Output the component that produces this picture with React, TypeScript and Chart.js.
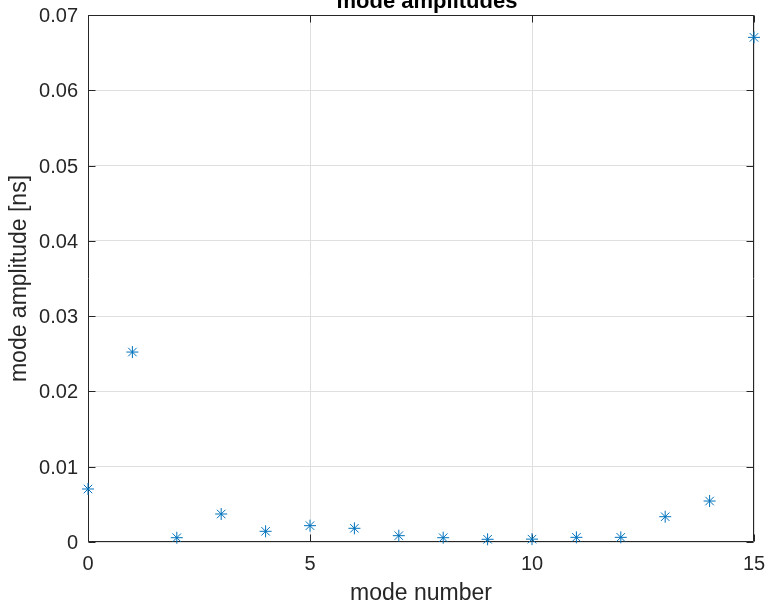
import React, { useEffect, useRef } from "react";
import { Chart, registerables } from "chart.js";

Chart.register(...registerables);

// Mode index and amplitude (ns) of each mode
const modeNumbers = [0, 1, 2, 3, 4, 5, 6, 7, 8, 9, 10, 11, 12, 13, 14, 15];
const modeAmplitudes = [
  0.00704, 0.02523, 0.00057, 0.00372, 0.00142, 0.00217, 0.00182, 0.00084,
  0.00057, 0.00036, 0.00038, 0.00062, 0.00062, 0.00336, 0.00544, 0.06703,
];

const xTicks = [0, 5, 10, 15];
const xTickLabels = ["0", "5", "10", "15"];
const yTicks = [0, 0.01, 0.02, 0.03, 0.04, 0.05, 0.06, 0.07];
const yTickLabels = ["0", "0.01", "0.02", "0.03", "0.04", "0.05", "0.06", "0.07"];

const titleText = "mode amplitudes";
const xLabel = "mode number";
const yLabel = "mode amplitude [ns]";

const AXIS_COLOR = "#262626";
const GRID_COLOR = "#dfdfdf";
const MARKER_COLOR = "#0072BD";
const FONT = "'Liberation Sans', Arial, Helvetica, sans-serif";

// Axes box with inward tick marks, drawn beneath the markers
const axesBox = {
  id: "axesBox",
  beforeDatasetsDraw(chart: any) {
    const { ctx, chartArea } = chart;
    const xs = chart.scales.x;
    const ys = chart.scales.y;
    const l = Math.round(chartArea.left) + 0.5;
    const r = Math.round(chartArea.right) - 0.5;
    const t = Math.round(chartArea.top) + 0.5;
    const b = Math.round(chartArea.bottom) - 0.5;
    const tl = 7;
    ctx.save();
    ctx.strokeStyle = AXIS_COLOR;
    ctx.lineWidth = 1;
    ctx.beginPath();
    ctx.rect(l, t, r - l, b - t);
    for (const v of xTicks) {
      const px = Math.round(xs.getPixelForValue(v)) + 0.5;
      ctx.moveTo(px, b);
      ctx.lineTo(px, b - tl);
      ctx.moveTo(px, t);
      ctx.lineTo(px, t + tl);
    }
    for (const v of yTicks) {
      const py = Math.round(ys.getPixelForValue(v)) + 0.5;
      ctx.moveTo(l, py);
      ctx.lineTo(l + tl, py);
      ctx.moveTo(r, py);
      ctx.lineTo(r - tl, py);
    }
    ctx.stroke();
    ctx.restore();
  },
  afterDraw(chart: any) {
    const { ctx } = chart;
    ctx.save();
    ctx.fillStyle = "#000000";
    ctx.font = `bold 22px ${FONT}`;
    ctx.textAlign = "center";
    ctx.textBaseline = "alphabetic";
    ctx.fillText(titleText, 427, 7.5);
    ctx.restore();
  },
};

// Keep overhanging tick labels from shrinking the plot area
const clearScalePadding = (scale: any) => {
  scale.paddingTop = 0;
  scale.paddingBottom = 0;
  scale.paddingLeft = 0;
  scale.paddingRight = 0;
};

export default function App() {
  const canvasRef = useRef<HTMLCanvasElement | null>(null);

  useEffect(() => {
    if (!canvasRef.current) return;
    const chart = new Chart(canvasRef.current, {
      type: "scatter",
      data: {
        datasets: [
          {
            data: modeNumbers.map((m, i) => ({ x: m, y: modeAmplitudes[i] })),
            pointStyle: "star",
            pointRadius: 6,
            pointHoverRadius: 6,
            borderWidth: 1,
            borderColor: MARKER_COLOR,
            backgroundColor: MARKER_COLOR,
            showLine: false,
            clip: false as any,
          },
        ],
      },
      options: {
        animation: false,
        responsive: false,
        devicePixelRatio: 1,
        events: [],
        layout: { padding: { top: 15, right: 16, bottom: 0, left: 0 } },
        plugins: {
          legend: { display: false },
          tooltip: { enabled: false },
          title: { display: false },
        },
        scales: {
          x: {
            type: "linear",
            min: 0,
            max: 15,
            afterBuildTicks: (scale: any) => {
              scale.ticks = xTicks.map((v) => ({ value: v }));
            },
            afterFit: (scale: any) => {
              scale.height = 63;
              clearScalePadding(scale);
            },
            ticks: {
              color: AXIS_COLOR,
              font: { family: FONT, size: 20 },
              padding: 10,
              maxRotation: 0,
              autoSkip: false,
              callback: (_v: any, i: number) => xTickLabels[i],
            },
            grid: { color: GRID_COLOR, lineWidth: 1, drawTicks: false },
            border: { display: false },
            title: {
              display: true,
              text: xLabel,
              color: AXIS_COLOR,
              font: { family: FONT, size: 23, lineHeight: 1 },
              padding: { top: 0, bottom: 0 },
            },
          },
          y: {
            type: "linear",
            min: 0,
            max: 0.07,
            afterBuildTicks: (scale: any) => {
              scale.ticks = yTicks.map((v) => ({ value: v }));
            },
            afterFit: (scale: any) => {
              scale.width = 88;
              clearScalePadding(scale);
            },
            ticks: {
              color: AXIS_COLOR,
              font: { family: FONT, size: 20 },
              padding: 10,
              labelOffset: 1.5,
              autoSkip: false,
              callback: (_v: any, i: number) => yTickLabels[i],
            },
            grid: { color: GRID_COLOR, lineWidth: 1, drawTicks: false },
            border: { display: false },
            title: {
              display: true,
              text: yLabel,
              color: AXIS_COLOR,
              font: { family: FONT, size: 23, lineHeight: 1.2 },
              padding: { top: 6, bottom: 0 },
            },
          },
        },
      },
      plugins: [axesBox],
    });
    return () => chart.destroy();
  }, []);

  return (
    <div
      style={{
        position: "fixed",
        left: 0,
        top: 0,
        width: 770,
        height: 605,
        background: "#ffffff",
      }}
    >
      <canvas ref={canvasRef} width={770} height={605} />
    </div>
  );
}
